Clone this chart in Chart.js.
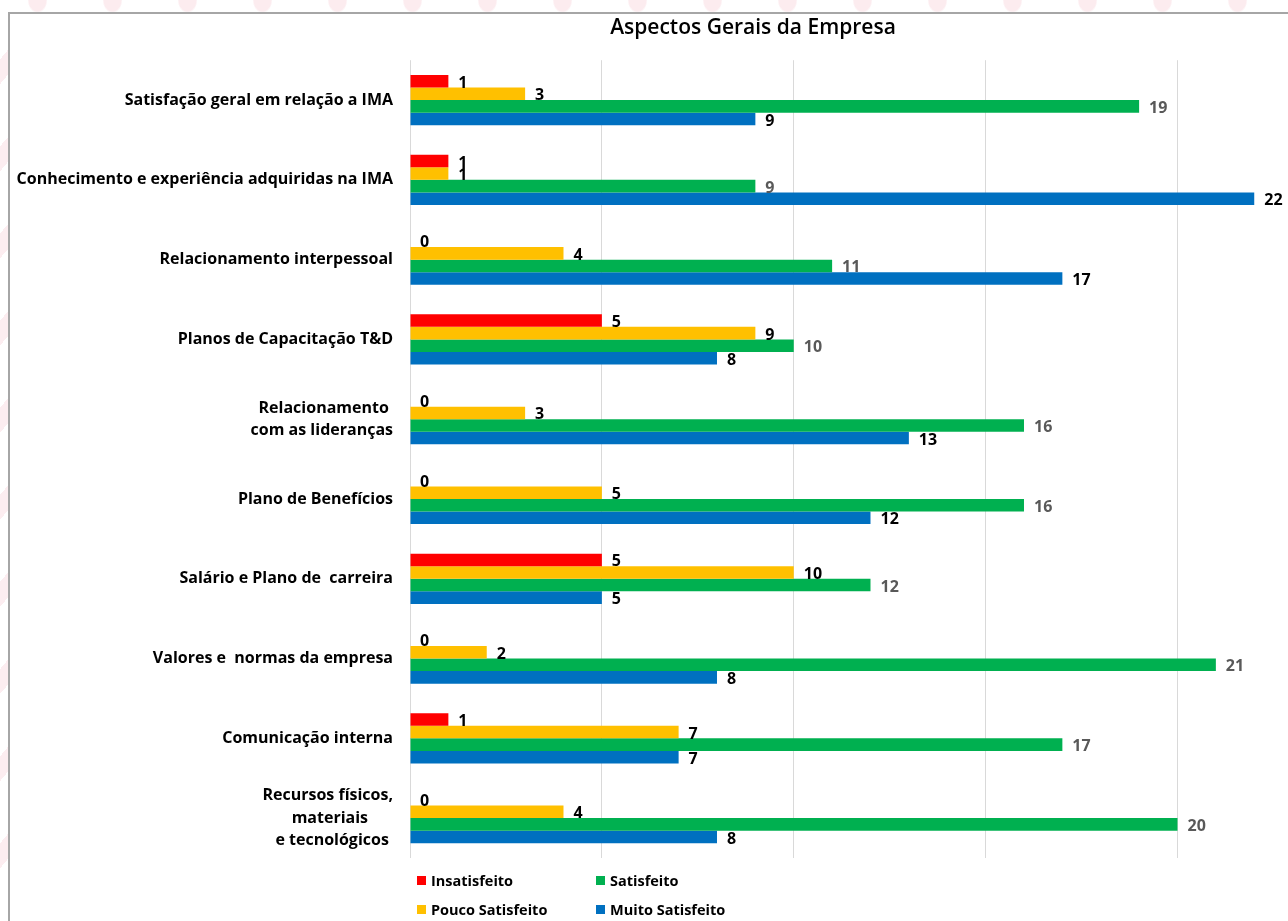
<!DOCTYPE html>
<html lang="pt">
<head>
<meta charset="utf-8">
<title>Aspectos Gerais da Empresa</title>
<script src="https://cdn.jsdelivr.net/npm/chart.js@4.4.0/dist/chart.umd.min.js"></script>
<style>
  html, body { margin: 0; padding: 0; }
  body {
    width: 1288px;
    height: 921px;
    overflow: hidden;
    position: relative;
    background: #fff;
  }
  .deco-top {
    position: absolute; left: 0; top: 0; width: 1288px; height: 12px;
    background: radial-gradient(ellipse 10px 13px at 50% 0, #fcecef 85%, transparent 100%) 0 0 / 75px 12px repeat-x;
  }
  .deco-left {
    position: absolute; left: 0; top: 0; width: 8px; height: 921px;
    background: repeating-linear-gradient(-50deg, #fff 0 40px, #fcedf0 40px 56px);
  }
  .frame {
    position: absolute;
    left: 8px;
    top: 12px;
    width: 1486px;
    height: 940px;
    border: 2px solid #a6a6a6;
    background: #fff;
  }
  #chart { position: absolute; left: 0; top: 0; }
  .legend {
    position: absolute;
    left: 407px;
    top: 856px;
    display: grid;
    grid-template-columns: 179px 179px;
    row-gap: 9px;
    font: bold 14.5px "Open Sans", sans-serif;
    color: #000;
  }
  .legend span { display: flex; align-items: center; height: 20px; }
  .legend i { display: inline-block; width: 9px; height: 9px; margin-right: 5px; }
</style>
</head>
<body>
<div class="deco-top"></div>
<div class="deco-left"></div>
<div class="frame">
  <canvas id="chart" width="1486" height="900"></canvas>
  <div class="legend" id="legend"></div>
</div>
<script>
// categories, top to bottom
const aspectos = [
  'Satisfação geral em relação a IMA',
  'Conhecimento e experiência adquiridas na IMA',
  'Relacionamento interpessoal',
  'Planos de Capacitação T&D',
  ['Relacionamento ', 'com as lideranças'],
  'Plano de Benefícios',
  'Salário e Plano de  carreira',
  'Valores e  normas da empresa',
  'Comunicação interna',
  ['Recursos físicos,', 'materiais      ', 'e tecnológicos '],
];

const seriesNames = ['Insatisfeito', 'Pouco Satisfeito', 'Satisfeito', 'Muito Satisfeito'];
const seriesColors = ['#ff0000', '#ffc000', '#00b050', '#0070c0'];
const labelColors = ['#000000', '#000000', '#595959', '#000000'];

const insatisfeito = [1, 1, 0, 5, 0, 0, 5, 0, 1, 0];
const poucoSatisfeito = [3, 1, 4, 9, 3, 5, 10, 2, 7, 4];
const satisfeito = [19, 9, 11, 10, 16, 16, 12, 21, 17, 20];
const muitoSatisfeito = [9, 22, 17, 8, 13, 12, 5, 8, 7, 8];

const seriesValues = [insatisfeito, poucoSatisfeito, satisfeito, muitoSatisfeito];

// numbers printed just past the end of each bar
const valueLabels = {
  id: 'valueLabels',
  afterDatasetsDraw(chart) {
    const { ctx } = chart;
    ctx.save();
    ctx.font = 'bold 16px "Open Sans"';
    ctx.textAlign = 'left';
    ctx.textBaseline = 'middle';
    chart.data.datasets.forEach((ds, i) => {
      chart.getDatasetMeta(i).data.forEach((bar, j) => {
        ctx.fillStyle = labelColors[i];
        ctx.fillText(String(ds.data[j]), bar.x + 10, bar.y + 2);
      });
    });
    ctx.restore();
  },
};

const chart = new Chart(document.getElementById('chart'), {
  type: 'bar',
  data: {
    labels: aspectos,
    datasets: seriesValues.map((values, i) => ({
      label: seriesNames[i],
      data: values,
      backgroundColor: seriesColors[i],
      borderWidth: 0,
      categoryPercentage: 0.63,
      barPercentage: 1.0,
    })),
  },
  options: {
    indexAxis: 'y',
    responsive: false,
    animation: false,
    layout: { padding: { left: 0, right: 0, top: 0, bottom: 56 } },
    scales: {
      x: {
        min: 0,
        max: 28.3,
        ticks: { display: false, stepSize: 5 },
        grid: { color: '#d9d9d9', drawTicks: false },
        border: { display: false },
      },
      y: {
        // fixed label column; tall multi-line labels must not push the plot down
        afterFit(scale) {
          scale.width = 400;
          scale.paddingTop = 0;
          scale.paddingBottom = 0;
        },
        ticks: {
          color: '#000',
          padding: 17,
          font: { family: 'Open Sans', size: 16, weight: 'bold', lineHeight: 1.4 },
        },
        grid: { display: false, drawTicks: false },
        border: { display: false },
      },
    },
    plugins: {
      legend: { display: false },
      tooltip: { enabled: false },
      title: {
        display: true,
        text: 'Aspectos Gerais da Empresa',
        color: '#000',
        font: { family: 'Open Sans', size: 21, weight: '600', lineHeight: 1.2 },
        padding: { top: 1, bottom: 20 },
      },
    },
  },
  plugins: [valueLabels],
});

// legend in two columns: Insatisfeito, Satisfeito / Pouco Satisfeito, Muito Satisfeito
const legend = document.getElementById('legend');
[0, 2, 1, 3].forEach((i) => {
  const item = document.createElement('span');
  const box = document.createElement('i');
  box.style.background = seriesColors[i];
  item.appendChild(box);
  item.appendChild(document.createTextNode(seriesNames[i]));
  legend.appendChild(item);
});
</script>
</body>
</html>
